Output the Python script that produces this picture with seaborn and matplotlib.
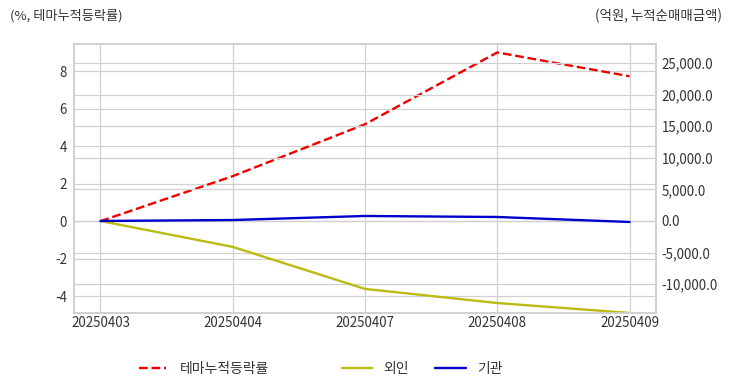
import matplotlib
matplotlib.use("Agg")
import matplotlib.pyplot as plt
import seaborn as sns
import pandas as pd
from matplotlib.ticker import FuncFormatter

dates = ["20250403", "20250404", "20250407", "20250408", "20250409"]
theme_rate = [0.0, 2.4, 5.17, 9.0, 7.73]
foreign = [0.0, -4100.0, -10750.0, -12980.0, -14550.0]
institution = [0.0, 150.0, 790.0, 630.0, -160.0]

sns.set_theme(style="whitegrid")
plt.rcParams['font.family'] = ['Noto Sans CJK KR', 'DejaVu Sans']
plt.rcParams['axes.unicode_minus'] = False

df = pd.DataFrame({"date": dates, "theme": theme_rate, "foreign": foreign, "inst": institution})
df["x"] = range(len(dates))

fig = plt.figure(figsize=(7.32, 3.92), dpi=100)
ax1 = fig.add_axes([74/732, 1-313/392, (656-74)/732, (313-44)/392])
ax2 = ax1.twinx()

grid_c = "#d0d0d0"
txt_c = "#333333"

sns.lineplot(data=df, x="x", y="theme", ax=ax1, color="#ee0000", linestyle="--", linewidth=1.7, label="테마누적등락률")
sns.lineplot(data=df, x="x", y="foreign", ax=ax2, color="#bbbb11", linewidth=1.7, label="외인")
sns.lineplot(data=df, x="x", y="inst", ax=ax2, color="#0000cc", linewidth=1.7, label="기관")

ax1.set_xlim(-0.2, 4.2)
ax1.set_ylim(-4.9, 9.45)
ax2.set_ylim(-14560, 28000)
ax1.set_xticks(range(len(dates)))
ax1.set_xticklabels(dates)
ax1.set_yticks([-4, -2, 0, 2, 4, 6, 8])
ax2.set_yticks(list(range(-10000, 25001, 5000)))
ax2.yaxis.set_major_formatter(FuncFormatter(lambda v, p: f"{v:,.1f}"))
ax1.set_xlabel("")
ax1.set_ylabel("")
ax2.set_ylabel("")

for ax in (ax1, ax2):
    ax.grid(True, color=grid_c, linewidth=0.9)
    for s in ax.spines.values():
        s.set_color(grid_c)
        s.set_linewidth(1.2)
    ax.tick_params(axis="both", labelsize=9.6, colors=txt_c, length=0)
ax1.tick_params(axis="y", pad=5)
ax1.tick_params(axis="x", pad=2)
ax2.tick_params(axis="y", pad=4)
ax2.set_zorder(ax1.get_zorder() + 1)
ax2.patch.set_visible(False)
ax1.set_axisbelow(True)

h1, l1 = ax1.get_legend_handles_labels()
h2, l2 = ax2.get_legend_handles_labels()
ax1.get_legend().remove()
ax2.get_legend().remove()
fig.legend(h1, l1, loc="center left", bbox_to_anchor=(126/732, 1-369/392), frameon=False,
           fontsize=10, handlelength=2.0, handletextpad=1.0, labelcolor=txt_c)
fig.legend(h2, l2, loc="center left", bbox_to_anchor=(329/732, 1-369/392), frameon=False,
           fontsize=10, handlelength=2.2, ncol=2, columnspacing=1.9, labelcolor=txt_c)

fig.text(10/732, 1-16/392, "(%, 테마누적등락률)", fontsize=9.5, color=txt_c, va="center", ha="left")
fig.text(722/732, 1-16/392, "(억원, 누적순매매금액)", fontsize=9.7, color=txt_c, va="center", ha="right")

fig.savefig("out.png", dpi=100)
